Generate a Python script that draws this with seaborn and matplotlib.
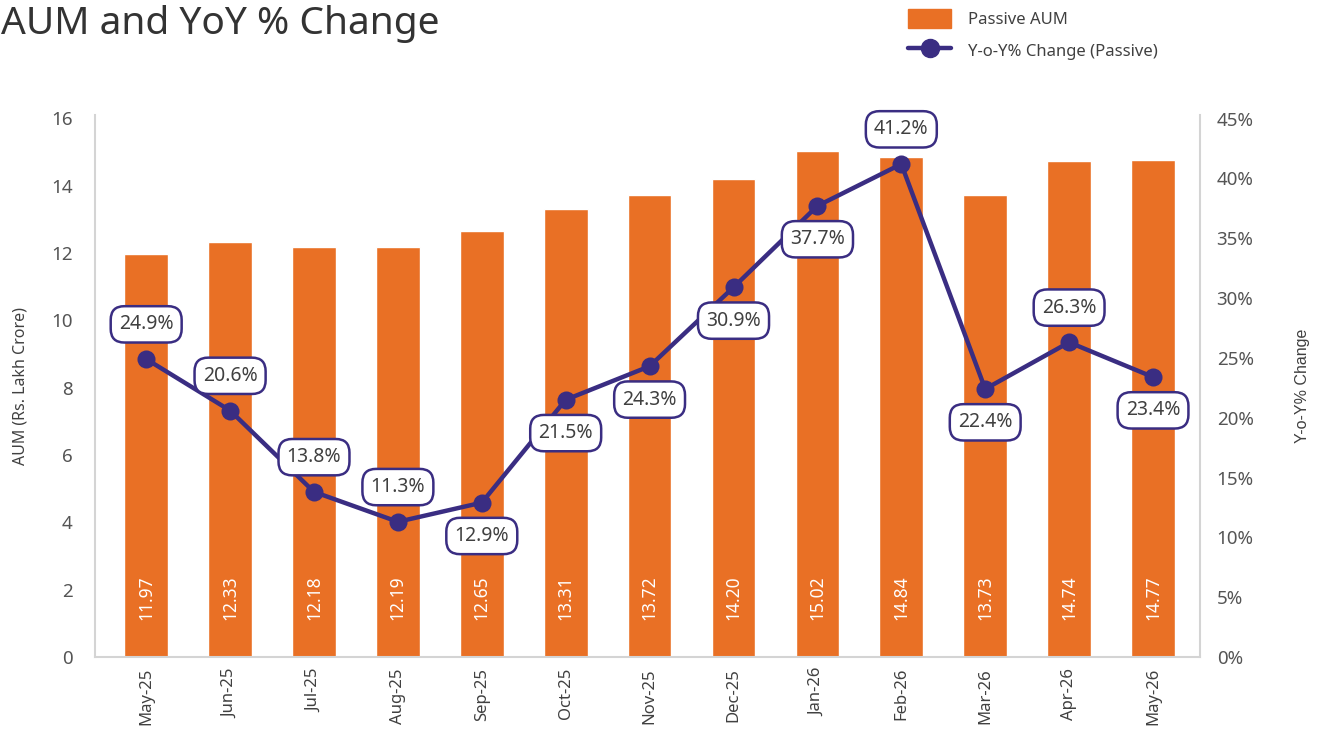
import numpy as np
import pandas as pd
import matplotlib
matplotlib.use("Agg")
import matplotlib.pyplot as plt
from matplotlib.lines import Line2D
from matplotlib.patches import Patch
import seaborn as sns

# data
months = ["May-25", "Jun-25", "Jul-25", "Aug-25", "Sep-25", "Oct-25", "Nov-25",
          "Dec-25", "Jan-26", "Feb-26", "Mar-26", "Apr-26", "May-26"]
aum = [11.97, 12.33, 12.18, 12.19, 12.65, 13.31, 13.72, 14.20, 15.02, 14.84, 13.73, 14.74, 14.77]
yoy = [24.9, 20.6, 13.8, 11.3, 12.9, 21.5, 24.3, 30.9, 37.7, 41.2, 22.4, 26.3, 23.4]
label_above = [True, True, True, True, False, False, False, False, False, True, False, True, False]

df = pd.DataFrame({"Month": months, "AUM": aum, "YoY": yoy, "pos": np.arange(len(months))})

orange = "#E97025"
purple = "#3A2D82"
grey = "#404040"
spine = "#D4D4D4"

sns.set_theme(style="white")
plt.rcParams["font.family"] = ["Noto Sans", "DejaVu Sans"]

fig = plt.figure(figsize=(13.22, 7.44), dpi=100)
ax = fig.add_axes([95 / 1322, 1 - 657 / 744, 1105 / 1322, 542 / 744])

sns.barplot(data=df, x="Month", y="AUM", color=orange, width=0.52, saturation=1, ax=ax)
ax.set_xlim(-0.61, 12.56)
ax.set_ylim(0, 16.1)
ax.set_yticks(range(0, 17, 2))
ax.set_ylabel("AUM (Rs. Lakh Crore)", fontsize=11.5, color=grey, labelpad=16)
ax.set_xlabel("")
ax.tick_params(axis="y", labelsize=13.5, colors="#555555", length=0, pad=16)
ax.tick_params(axis="x", labelsize=12, colors=grey, length=0, rotation=90, pad=8)
for s in ["top", "right"]:
    ax.spines[s].set_visible(False)
for s in ["left", "bottom"]:
    ax.spines[s].set_color(spine)
    ax.spines[s].set_linewidth(1.5)

for i, v in enumerate(aum):
    ax.text(i, 1.75, f"{v:.2f}", rotation=90, ha="center", va="center",
            color="white", fontsize=12.5, fontweight="medium")

ax2 = ax.twinx()
sns.lineplot(data=df, x="pos", y="YoY", ax=ax2, color=purple, linewidth=3.2,
             marker="o", markersize=13, markeredgewidth=0, legend=False)
ax2.set_ylim(0, 45.3)
ax2.set_yticks(range(0, 46, 5))
ax2.set_yticklabels([f"{t}%" for t in range(0, 46, 5)])
ax2.tick_params(axis="y", labelsize=13.5, colors="#555555", length=0, pad=12)
ax2.set_ylabel("Y-o-Y% Change", fontsize=11.5, color=grey, family=["Liberation Sans"], labelpad=30)
ax2.set_xlabel("")
for s in ["top", "left", "bottom"]:
    ax2.spines[s].set_visible(False)
ax2.spines["right"].set_color(spine)
ax2.spines["right"].set_linewidth(1.5)

for i, (v, up) in enumerate(zip(yoy, label_above)):
    ax2.annotate(f"{v:.1f}%", xy=(i, v), xytext=(0, 25 if up else -24),
                 textcoords="offset points", ha="center", va="center",
                 fontsize=14, color=grey,
                 bbox=dict(boxstyle="round,pad=0.42,rounding_size=0.7", fc="white",
                           ec=purple, lw=1.8))

fig.text(0.0005, 0.968, "AUM and YoY % Change", fontsize=28, color="#333333",
         fontweight="medium", ha="left", va="center")

handles = [Patch(color=orange),
           Line2D([0], [0], color=purple, lw=3.2, marker="o", markersize=13)]
fig.legend(handles, ["Passive AUM", "Y-o-Y% Change (Passive)"], loc="upper left",
           bbox_to_anchor=(893 / 1322, 1.008), frameon=False, fontsize=12,
           labelcolor=grey, handlelength=2.6, handleheight=1.4, labelspacing=0.75,
           handletextpad=1.0)

fig.savefig("out.png", dpi=100)
